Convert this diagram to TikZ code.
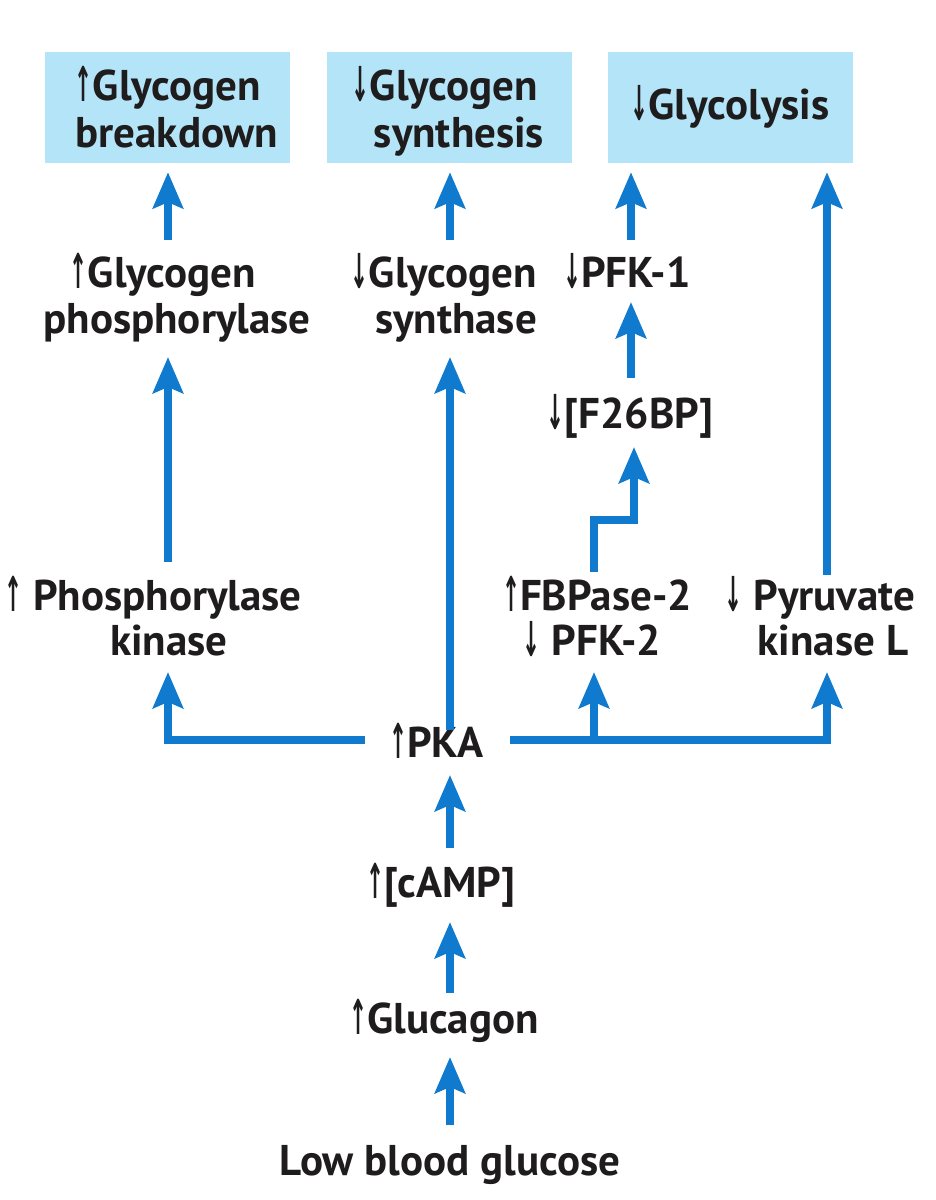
\documentclass[tikz,border=0pt]{standalone}
\usepackage{fontspec}
\setmainfont{PT Sans}
\newfontfamily\symfont{DejaVu Sans}
\usetikzlibrary{arrows.meta,calc}
\definecolor{arrblue}{RGB}{16,122,206}
\definecolor{boxblue}{RGB}{180,228,248}
\definecolor{txt}{RGB}{30,28,28}
\newcommand{\UA}{{\symfont\raisebox{-1pt}{\scalebox{0.5}[1.12]{↑}}}}
\newcommand{\DA}{{\symfont\raisebox{-1pt}{\scalebox{0.5}[1.12]{↓}}}}
\begin{document}
\begin{tikzpicture}[x=1pt,y=-1pt,
  lbl/.style={font=\bfseries\fontsize{43}{47}\selectfont, text=txt, inner sep=0pt, anchor=base},
  box/.style={fill=boxblue, draw=none, minimum width=245pt, minimum height=111pt, inner sep=0pt},
  conn/.style={draw=arrblue, line width=8pt},
  arr/.style={conn, -{Stealth[width=30pt,length=36pt,inset=6pt]}}]
\useasboundingbox (0,0) rectangle (936,1200);
% columns
\coordinate (c1) at (168,0);
\coordinate (c2) at (450,0);
\coordinate (c3) at (631,0);
\coordinate (c4) at (827,0);
\coordinate (cf) at (594,0);
\coordinate (cg) at (634,0);
% top boxes
\node[box] (b1) at (167.5,107.5) {};
\node[box] (b2) at (449,107.5) {};
\node[box] (b3) at (730,107.5) {};
\node[lbl] (b1a) at (168,100) {\UA Glycogen};
\node[lbl] (b1b) at (177,147) {breakdown};
\node[lbl] (b2a) at (445,100) {\DA Glycogen};
\node[lbl] (b2b) at (459,147) {synthesis};
\node[lbl] (b3a) at (730,119) {\DA Glycolysis};
% level 2
\node[lbl] (gp1) at (163,287) {\UA Glycogen};
\node[lbl] (gp2) at (177,333) {phosphorylase};
\node[lbl] (gs1) at (444,287) {\DA Glycogen};
\node[lbl] (gs2) at (456,333) {synthase};
\node[lbl] (pf1) at (627,287) {\DA PFK-1};
\node[lbl] (f26) at (630,428) {\DA[F26BP]};
% level 3
\node[lbl] (phk1) at (153,610) {\UA\ Phosphorylase};
\node[lbl] (phk2) at (169,655) {kinase};
\node[lbl] (fb1) at (597,610) {\UA FBPase-2};
\node[lbl] (fb2) at (592,655) {\DA\ PFK-2};
\node[lbl] (pk1) at (820,610) {\DA\ Pyruvate};
\node[lbl] (pk2) at (833,655) {kinase L};
% lower chain
\node[lbl] (pka) at (436,757) {\UA PKA};
\node[lbl] (camp) at (441,897) {\UA[cAMP]};
\node[lbl] (glu) at (444,1033) {\UA Glucagon};
\node[lbl] (low) at (450,1175) {Low blood glucose};
% connectors to boxes
\draw[arr] ($(gp1.base -| c1)+(0,-47)$) -- ($(b1.south -| c1)+(0,9)$);
\draw[arr] ($(gs1.base -| c2)+(0,-47)$) -- ($(b2.south -| c2)+(0,9)$);
\draw[arr] ($(pf1.base -| c3)+(0,-47)$) -- ($(b3.south -| c3)+(0,9)$);
\draw[arr] ($(pk1.base -| c4)+(0,-35)$) -- ($(b3.south -| c4)+(0,9)$);
% level 3 to level 2
\draw[arr] ($(phk1.base -| c1)+(0,-48)$) -- ($(gp2.base -| c1)+(0,24)$);
\draw[arr] ($(pka.base -| c2)+(0,-27)$) -- ($(gs2.base -| c2)+(0,24)$);
\draw[arr] ($(f26.base -| c3)+(0,-50)$) -- ($(pf1.base -| c3)+(0,15)$);
\draw[arr] ($(fb1.base -| cf)+(0,-38)$) |- ($(f26.base -| cg)+(0,92)$) -- ($(f26.base -| cg)+(0,19)$);
% PKA branches
\draw[arr] ($(pka.base)+(-71,-17)$) -| ($(phk2.base -| c1)+(0,17)$);
\draw[arr] ($(pka.base)+(74,-17)$) -| ($(pk2.base -| c4)+(0,17)$);
\draw[arr] ($(pka.base -| cf)+(0,-17)$) -- ($(fb2.base -| cf)+(0,17)$);
% lower chain
\draw[arr] ($(camp.base -| c2)+(0,-49)$) -- ($(pka.base -| c2)+(0,18)$);
\draw[arr] ($(glu.base -| c2)+(0,-40)$) -- ($(camp.base -| c2)+(0,25)$);
\draw[arr] ($(low.base -| c2)+(0,-50)$) -- ($(glu.base -| c2)+(0,24)$);
\end{tikzpicture}
\end{document}
